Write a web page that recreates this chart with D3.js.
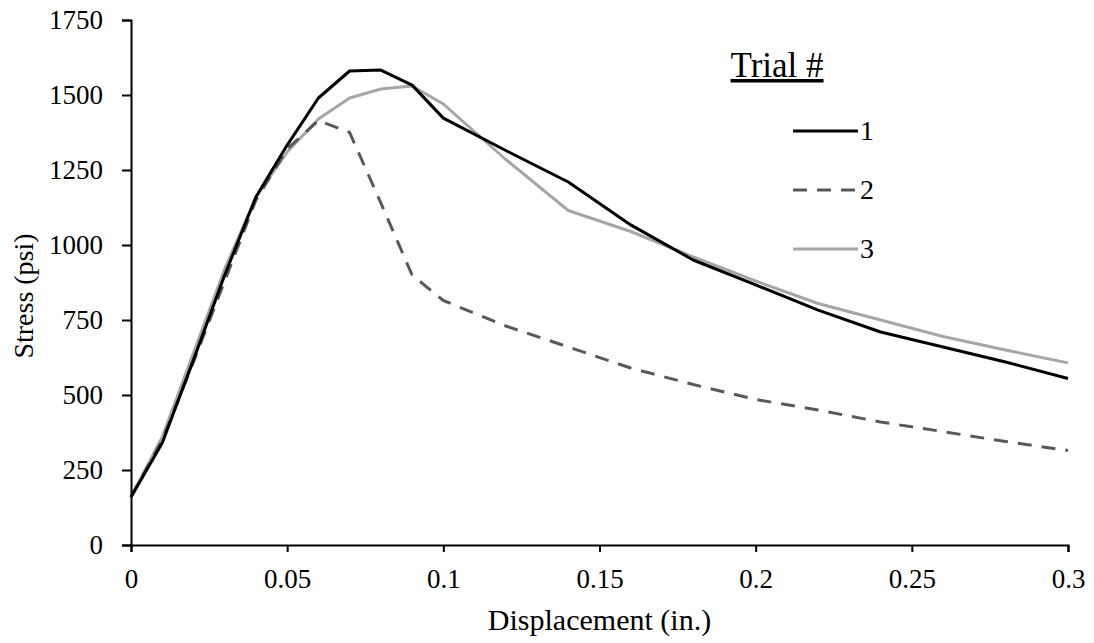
<!DOCTYPE html>
<html>
<head>
<meta charset="utf-8">
<script src="https://cdn.jsdelivr.net/npm/d3@7"></script>
<style>
  body { margin: 0; background: #fff; }
</style>
</head>
<body>
<div id="chart-area"></div>
<script>
var displacement = [0, 0.01, 0.02, 0.03, 0.04, 0.05, 0.06, 0.07, 0.08, 0.09, 0.1,
                    0.12, 0.14, 0.16, 0.18, 0.2, 0.22, 0.24, 0.26, 0.28, 0.3];
var trial1 = [160, 340, 617, 900, 1160, 1333, 1490, 1580, 1583, 1533, 1423,
              1315, 1210, 1067, 950, 867, 783, 710, 660, 610, 555];
var trial2 = [160, 350, 610, 880, 1150, 1320, 1415, 1375, 1140, 900, 815,
              730, 660, 590, 535, 485, 450, 410, 378, 345, 315];
var trial3 = [160, 360, 640, 920, 1160, 1310, 1420, 1490, 1520, 1530, 1470,
              1285, 1115, 1045, 960, 880, 805, 750, 695, 650, 607];
var trialNames = ["1", "2", "3"];
var xTicks = [0, 0.05, 0.1, 0.15, 0.2, 0.25, 0.3];
var yTicks = [0, 250, 500, 750, 1000, 1250, 1500, 1750];

var FONT = "Liberation Serif";

var margin = {top: 20, right: 26, bottom: 98, left: 131},
    width = 1094 - margin.left - margin.right,
    height = 643 - margin.top - margin.bottom;

var svg = d3.select("#chart-area")
    .append("svg")
    .attr("width", width + margin.left + margin.right)
    .attr("height", height + margin.top + margin.bottom)
    .attr("font-family", FONT)
    .append("g")
    .attr("transform", "translate(" + margin.left + "," + margin.top + ")");

var xScale = d3.scaleLinear().domain([0, 0.3]).range([0, 937]);
var yScale = d3.scaleLinear().domain([0, 1750]).range([height, 0]);

var series = [
    {name: trialNames[0], values: trial1, color: "#000000", dash: null},
    {name: trialNames[1], values: trial2, color: "#595959", dash: "14,10"},
    {name: trialNames[2], values: trial3, color: "#a6a6a6", dash: null}
];

var line = d3.line()
    .x(function(d, i) { return xScale(displacement[i]); })
    .y(function(d) { return yScale(d); });

// gray first, then dashed, black on top
[series[2], series[1], series[0]].forEach(function(s) {
    svg.append("path")
        .datum(s.values)
        .attr("d", line)
        .attr("fill", "none")
        .attr("stroke", s.color)
        .attr("stroke-width", 3)
        .attr("stroke-linejoin", "round")
        .attr("stroke-dasharray", s.dash);
});

var xAxis = svg.append("g")
    .attr("transform", "translate(0," + height + ")")
    .call(d3.axisBottom(xScale).tickValues(xTicks).tickSize(7).tickPadding(17)
        .tickFormat(function(d) { return String(d); }));

var yAxis = svg.append("g")
    .call(d3.axisLeft(yScale).tickValues(yTicks).tickSize(9).tickPadding(19)
        .tickFormat(d3.format("d")));

[xAxis, yAxis].forEach(function(ax) {
    ax.attr("font-family", FONT).attr("font-size", 27);
    ax.select(".domain").attr("stroke", "#000").attr("stroke-width", 2);
    ax.selectAll(".tick line").attr("stroke", "#000").attr("stroke-width", 2);
    ax.selectAll(".tick text")
        .style("font-family", FONT)
        .style("font-size", "27px")
        .attr("fill", "#000");
});

svg.append("text")
    .attr("x", xScale(0.15))
    .attr("y", height + 85)
    .attr("text-anchor", "middle")
    .style("font-family", FONT)
    .style("font-size", "30px")
    .text("Displacement (in.)");

svg.append("text")
    .attr("transform", "rotate(-90)")
    .attr("x", -276)
    .attr("y", -98)
    .attr("text-anchor", "middle")
    .style("font-family", FONT)
    .style("font-size", "28px")
    .text("Stress (psi)");

// legend
var legend = svg.append("g").attr("transform", "translate(" + (793 - margin.left) + ",0)");

legend.append("text")
    .attr("x", -16)
    .attr("y", 57)
    .attr("text-anchor", "middle")
    .style("font-family", FONT)
    .style("font-size", "35px")
    .style("text-decoration", "underline")
    .text("Trial #");

series.forEach(function(s, i) {
    var ly = 111 + i * 59;
    legend.append("line")
        .attr("x1", 0).attr("x2", 65)
        .attr("y1", ly).attr("y2", ly)
        .attr("stroke", s.color)
        .attr("stroke-width", 3)
        .attr("stroke-dasharray", s.dash);
    legend.append("text")
        .attr("x", 67)
        .attr("y", ly + 9)
        .style("font-family", FONT)
        .style("font-size", "28px")
        .text(s.name);
});
</script>
</body>
</html>
